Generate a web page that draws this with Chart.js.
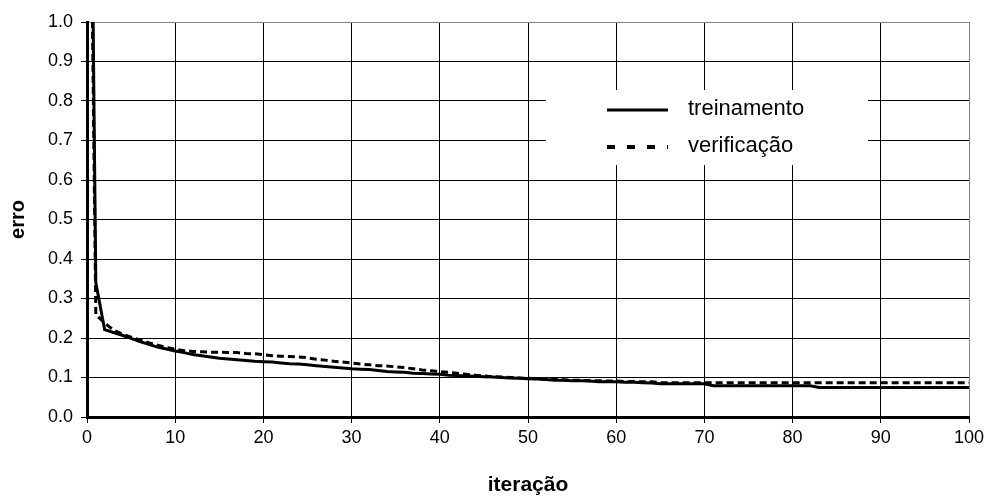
<!DOCTYPE html>
<html>
<head>
<meta charset="utf-8">
<script src="https://cdn.jsdelivr.net/npm/chart.js@4/dist/chart.umd.min.js"></script>
<style>
html,body{margin:0;padding:0;background:#fff;}
#wrap{width:990px;height:500px;position:relative;}
</style>
</head>
<body>
<div id="wrap"><canvas id="c" width="990" height="500"></canvas></div>
<script>
const iteracoes = Array.from({length: 101}, (_, i) => i);
const treinamento = [
  2.5, 0.34, 0.221, 0.214, 0.207, 0.199, 0.191, 0.184, 0.177, 0.172,
  0.167, 0.163, 0.158, 0.155, 0.152, 0.149, 0.147, 0.145, 0.143, 0.141,
  0.140, 0.139, 0.137, 0.135, 0.134, 0.132, 0.130, 0.128, 0.126, 0.124,
  0.122, 0.121, 0.120, 0.118, 0.115, 0.114, 0.113, 0.111, 0.110, 0.109,
  0.108, 0.106, 0.105, 0.104, 0.103, 0.102, 0.101, 0.100, 0.099, 0.098,
  0.097, 0.096, 0.095, 0.093, 0.093, 0.092, 0.092, 0.091, 0.089, 0.089,
  0.089, 0.088, 0.088, 0.087, 0.086, 0.084, 0.084, 0.084, 0.084, 0.084,
  0.084, 0.079, 0.079, 0.079, 0.079, 0.079, 0.079, 0.079, 0.079, 0.079,
  0.079, 0.079, 0.079, 0.075, 0.075, 0.075, 0.075, 0.075, 0.075, 0.075,
  0.075, 0.075, 0.075, 0.075, 0.075, 0.075, 0.075, 0.075, 0.075, 0.075,
  0.075
];
const verificacao = [
  2.2, 0.259, 0.238, 0.220, 0.210, 0.202, 0.195, 0.188, 0.182, 0.176,
  0.172, 0.168, 0.166, 0.165, 0.164, 0.164, 0.163, 0.163, 0.161, 0.160,
  0.158, 0.155, 0.154, 0.153, 0.152, 0.150, 0.146, 0.144, 0.141, 0.139,
  0.137, 0.134, 0.132, 0.130, 0.129, 0.127, 0.125, 0.122, 0.119, 0.117,
  0.115, 0.113, 0.111, 0.108, 0.106, 0.104, 0.102, 0.101, 0.100, 0.099,
  0.098, 0.097, 0.096, 0.095, 0.094, 0.093, 0.093, 0.092, 0.092, 0.091,
  0.091, 0.090, 0.090, 0.089, 0.089, 0.087, 0.087, 0.087, 0.087, 0.087,
  0.087, 0.087, 0.087, 0.087, 0.087, 0.087, 0.087, 0.087, 0.087, 0.087,
  0.087, 0.087, 0.087, 0.087, 0.087, 0.087, 0.087, 0.087, 0.087, 0.087,
  0.087, 0.087, 0.087, 0.087, 0.087, 0.087, 0.087, 0.087, 0.087, 0.087,
  0.087
];
const seriesNames = ['treinamento', 'verificação'];
const xTitle = 'iteração';
const yTitle = 'erro';

const FONT = '"Liberation Sans", Arial, sans-serif';

const legendBox = {
  id: 'legendBox',
  afterDatasetsDraw(chart) {
    const ctx = chart.ctx;
    ctx.save();
    ctx.fillStyle = '#fff';
    ctx.fillRect(546, 90, 322, 75);
    ctx.strokeStyle = '#000';
    ctx.lineWidth = 3;
    ctx.setLineDash([]);
    ctx.beginPath(); ctx.moveTo(607, 110); ctx.lineTo(668, 110); ctx.stroke();
    ctx.lineWidth = 4;
    ctx.setLineDash([8, 12]);
    ctx.beginPath(); ctx.moveTo(607, 147); ctx.lineTo(668, 147); ctx.stroke();
    ctx.setLineDash([]);
    ctx.fillStyle = '#000';
    ctx.font = '22px ' + FONT;
    ctx.textBaseline = 'middle';
    ctx.textAlign = 'left';
    ctx.fillText(seriesNames[0], 688, 109);
    ctx.fillText(seriesNames[1], 688, 146);
    ctx.restore();
  }
};

new Chart(document.getElementById('c'), {
  type: 'line',
  data: {
    datasets: [
      {
        label: seriesNames[0],
        data: iteracoes.map((x, i) => ({x, y: treinamento[i]})),
        borderColor: '#000',
        borderWidth: 3,
        pointRadius: 0,
        tension: 0,
        fill: false
      },
      {
        label: seriesNames[1],
        data: iteracoes.map((x, i) => ({x, y: verificacao[i]})),
        borderColor: '#000',
        borderWidth: 3,
        borderDash: [7, 4],
        pointRadius: 0,
        tension: 0,
        fill: false
      }
    ]
  },
  options: {
    responsive: false,
    animation: false,
    layout: {padding: {left: 0, top: 22, right: 21, bottom: 0}},
    plugins: {legend: {display: false}, tooltip: {enabled: false}},
    scales: {
      x: {
        type: 'linear',
        min: 0, max: 100,
        afterFit: s => { s.height = 83; },
        ticks: {stepSize: 10, color: '#000', font: {family: FONT, size: 18}, padding: 4, maxRotation: 0},
        grid: {color: ctx => (ctx.tick && ctx.tick.value === 100 ? '#808080' : '#000'), lineWidth: 1, tickLength: 6, tickColor: '#000'},
        border: {color: '#000', width: 3},
        title: {display: true, text: xTitle, color: '#000', font: {family: FONT, size: 21, weight: 'bold'}, padding: {top: 0, bottom: 2}}
      },
      y: {
        min: 0, max: 1,
        afterFit: s => { s.width = 87; },
        ticks: {stepSize: 0.1, color: '#000', font: {family: FONT, size: 18}, padding: 8, callback: v => v.toFixed(1)},
        grid: {color: ctx => (ctx.tick && ctx.tick.value === 1 ? '#808080' : '#000'), lineWidth: 1, tickLength: 6, tickColor: '#000'},
        border: {color: '#000', width: 3},
        title: {display: true, text: yTitle, color: '#000', font: {family: FONT, size: 20, weight: 'bold'}, padding: {top: 6, bottom: 0}}
      }
    }
  },
  plugins: [legendBox]
});
</script>
</body>
</html>
